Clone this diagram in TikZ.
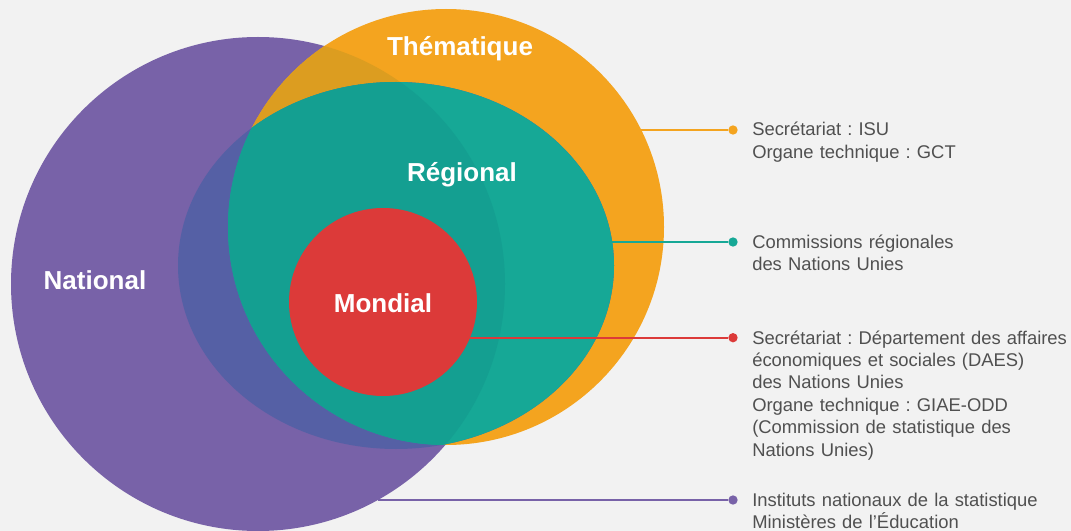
\documentclass[tikz,border=0pt]{standalone}
\usepackage{fontspec}
\setmainfont{Liberation Sans}
\frenchspacing
\definecolor{fondcol}{HTML}{F2F2F2}
\definecolor{natcol}{HTML}{7862A8}
\definecolor{thecol}{HTML}{F4A41F}
\definecolor{thenat}{HTML}{DC9D20}
\definecolor{regcol}{HTML}{16A896}
\definecolor{regnat}{HTML}{149F91}
\definecolor{regbleu}{HTML}{5560A5}
\definecolor{moncol}{HTML}{DC3A39}
\definecolor{txtcol}{HTML}{505050}
\begin{document}
\begin{tikzpicture}[x=0.75pt,y=-0.75pt,
	titre/.style={text=white,font=\bfseries\fontsize{19.5}{23}\selectfont,anchor=base},
	info/.style={text=txtcol,font=\fontsize{13.8}{16.8}\selectfont,anchor=base west,
		inner sep=0pt,text width=250pt,align=left},
	lien/.style={line width=1.8pt},
	point/.style={circle,inner sep=0pt,minimum size=7pt}]
		\useasboundingbox[fill=fondcol] (0,0) rectangle (1071,531);
		\clip (0,0) rectangle (1071,531);
		% les quatre niveaux
		\fill[natcol] (258,284) circle (247);
		\fill[thecol] (446,227) circle (218);
		\begin{scope}
			\clip (258,284) circle (247);
			\fill[thenat] (446,227) circle (218);
		\end{scope}
		\fill[regbleu] (396,265.5) ellipse [x radius=218,y radius=183.5];
		\begin{scope}
			\clip (446,227) circle (218);
			\fill[regcol] (396,265.5) ellipse [x radius=218,y radius=183.5];
			\clip (258,284) circle (247);
			\fill[regnat] (396,265.5) ellipse [x radius=218,y radius=183.5];
		\end{scope}
		\fill[moncol] (383,302) circle (94);
		\node[titre] (lthe) at (460,56) {Thématique};
		\node[titre] (lreg) at (462,182) {Régional};
		\node[titre] (lnat) at (95,289) {National};
		\node[titre] (lmon) at (383,312) {Mondial};
		% liens vers les textes
		\foreach[count=\k] \c/\xa/\y in {thecol/641.2/130,regcol/612.2/242,moncol/470/337.7,natcol/377.8/500}{
			\coordinate (e\k) at (\xa,\y);
			\node[point,fill=\c] (d\k) at (733,\y) {};
			\draw[lien,\c] (e\k) -- (d\k);
		}
		\node[info] (t1) at (752,136) {Secrétariat : ISU\\Organe technique : GCT};
		\node[info] (t2) at (752,248) {Commissions régionales\\des Nations Unies};
		\node[info] (t3) at (752,344) {Secrétariat : Département des affaires\\économiques et sociales (DAES)\\des Nations Unies\\Organe technique : GIAE-ODD\\(Commission de statistique des\\Nations Unies)};
		\node[info] (t4) at (752,506.5) {Instituts nationaux de la statistique\\Ministères de l’Éducation};
	\end{tikzpicture}
\end{document}
